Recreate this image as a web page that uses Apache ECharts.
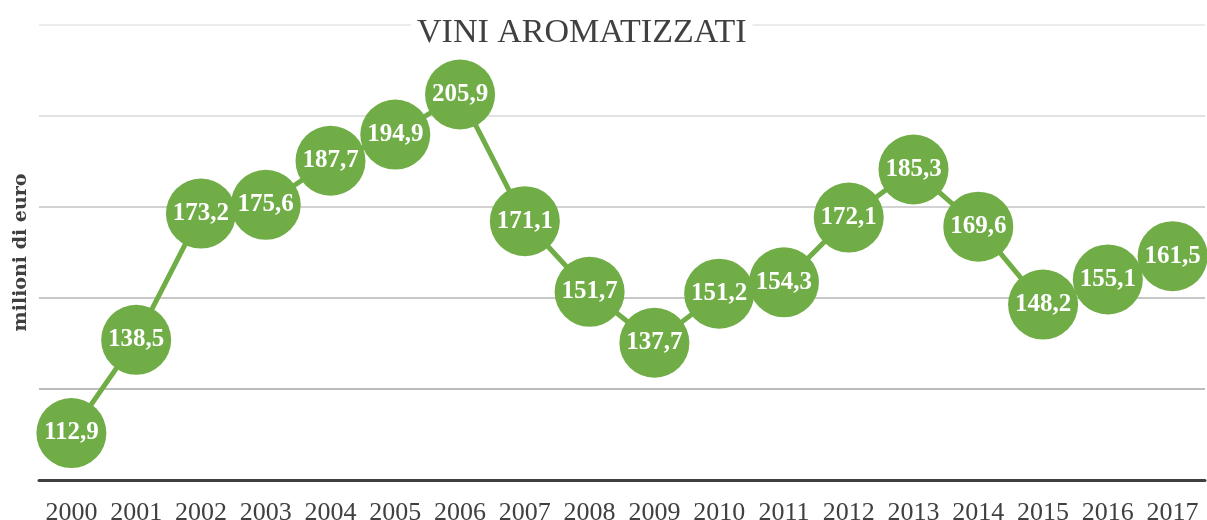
<!DOCTYPE html>
<html>
<head>
<meta charset="utf-8">
<script src="https://cdn.jsdelivr.net/npm/echarts@6/dist/echarts.min.js"></script>
<style>
  html, body { margin: 0; padding: 0; background: #fff; }
  #chart { width: 1207px; height: 520px; }
</style>
</head>
<body>
<div id="chart"></div>
<script>
const years = ['2000', '2001', '2002', '2003', '2004', '2005', '2006', '2007', '2008',
  '2009', '2010', '2011', '2012', '2013', '2014', '2015', '2016', '2017']
const values = [112.9, 138.5, 173.2, 175.6, 187.7, 194.9, 205.9, 171.1, 151.7,
  137.7, 151.2, 154.3, 172.1, 185.3, 169.6, 148.2, 155.1, 161.5]

const green = '#70ad47'

const chart = echarts.init(document.getElementById('chart'))
chart.setOption({
  animation: false,
  title: {
    text: 'VINI AROMATIZZATI',
    left: 411,
    top: 16,
    padding: [0, 6],
    backgroundColor: '#fff',
    textStyle: {
      fontFamily: 'Liberation Serif',
      fontWeight: 'normal',
      fontSize: 34,
      color: '#404040'
    }
  },
  grid: { left: 39, right: 2, top: 25, bottom: 40, containLabel: false, outerBoundsMode: 'none' },
  xAxis: {
    type: 'category',
    data: years,
    axisLine: { lineStyle: { color: '#404040', width: 3 } },
    axisTick: { show: false },
    axisLabel: {
      interval: 0,
      margin: 20,
      fontFamily: 'Liberation Serif',
      fontSize: 26,
      color: '#404040'
    }
  },
  yAxis: {
    type: 'value',
    min: 100,
    max: 225,
    interval: 25,
    name: 'milioni di euro',
    nameLocation: 'middle',
    nameGap: 8,
    nameTextStyle: {
      fontFamily: 'DejaVu Serif',
      fontWeight: 'bold',
      fontSize: 19,
      color: '#404040'
    },
    axisLine: { show: false },
    axisTick: { show: false },
    axisLabel: { show: false },
    splitLine: {
      lineStyle: {
        color: ['#ffffff', '#a6a6a6', '#b4b4b4', '#c4c4c4', '#d9d9d9', '#e6e6e6'],
        width: 1.5
      }
    }
  },
  series: [{
    type: 'line',
    data: values,
    symbol: 'circle',
    symbolSize: 70,
    showAllSymbol: true,
    itemStyle: { color: green },
    lineStyle: { color: green, width: 5 },
    z: 3,
    label: {
      show: true,
      position: 'inside',
      formatter: p => String(p.value).replace('.', ','),
      fontFamily: 'Liberation Serif',
      fontWeight: 'bold',
      fontSize: 25,
      color: '#fff'
    }
  }]
})
</script>
</body>
</html>
